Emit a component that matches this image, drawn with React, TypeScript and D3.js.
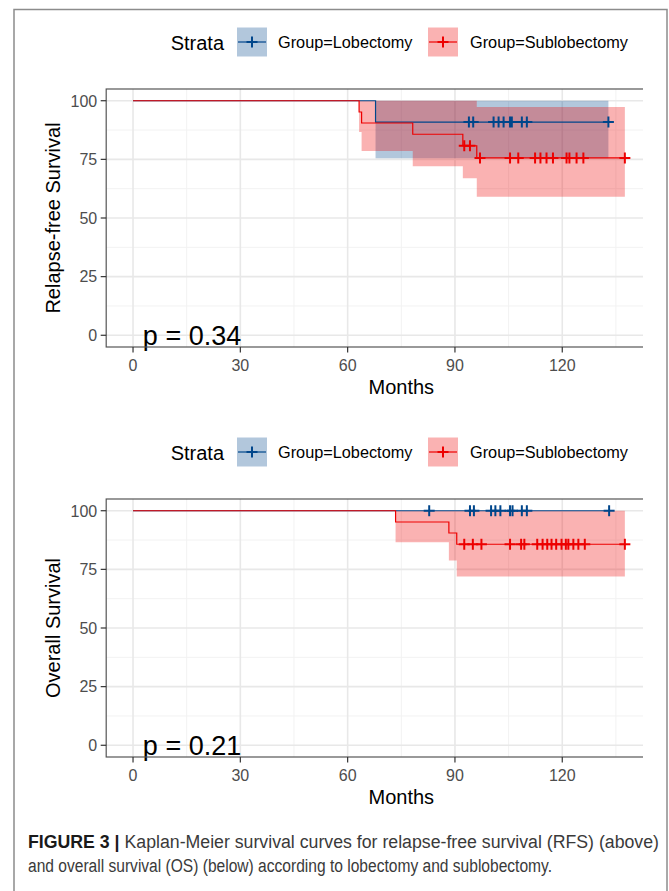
import React from "react";
import * as d3 from "d3";

// ---------- data ----------
const xTicks = [0, 30, 60, 90, 120];
const xMinor = [15, 45, 75, 105, 135];
const yTicks = [0, 25, 50, 75, 100];
const yMinor = [12.5, 37.5, 62.5, 87.5];

// RFS – Lobectomy
const rfsLobTimes = [0, 67.8];
const rfsLobSurv = [100, 90.9];
const rfsLobLower = [100, 75.5];
const rfsLobUpper = [100, 100];
const rfsLobEnd = 132.9;
const rfsLobCensor = [93.9, 95.1, 100.8, 102.2, 103.6, 105.4, 105.9, 108.7, 110.1, 132.9];

// RFS – Sublobectomy
const rfsSubTimes = [0, 63.2, 63.9, 78.2, 92.2, 96.1];
const rfsSubSurv = [100, 95.2, 90.5, 85.7, 80.8, 75.6];
const rfsSubLower = [100, 86.7, 78.6, 72.1, 66.9, 59.1];
const rfsSubUpper = [100, 100, 100, 100, 100, 97.3];
const rfsSubEnd = 137.5;
const rfsSubCensor = [92.6, 94.2, 97.0, 105.4, 107.7, 112.4, 113.9, 115.6, 117.4, 121.2, 122.0, 124.0, 125.9, 137.5];

// OS – Lobectomy
const osLobTimes = [0];
const osLobSurv = [100];
const osLobLower = [100];
const osLobUpper = [100];
const osLobEnd = 133.1;
const osLobCensor = [82.8, 94.2, 95.3, 100.1, 101.3, 102.7, 105.4, 106.1, 108.7, 110.1, 133.1];

// OS – Sublobectomy
const osSubTimes = [0, 73.4, 88.3, 90.5];
const osSubSurv = [100, 95.2, 90.5, 85.7];
const osSubLower = [100, 86.6, 78.8, 72.0];
const osSubUpper = [100, 100, 100, 100];
const osSubEnd = 137.5;
const osSubCensor = [92.6, 95.0, 97.4, 105.4, 108.5, 109.4, 113.0, 114.5, 115.8, 117.0, 118.3, 119.8, 121.0, 121.7, 123.1, 124.5, 126.3, 137.5];

const groupLabels = ["Group=Lobectomy", "Group=Sublobectomy"];
const groupColors = ["#00468B", "#ED0000"];

// ---------- layout ----------
const W = 669;
const H = 891;
const PANEL_L = 106.2;
const PANEL_R = 696.4;
const CLIP_R = 643;
const FONT = "'Liberation Sans', Arial, Helvetica, sans-serif";

type Curve = {
  times: number[];
  surv: number[];
  lower: number[];
  upper: number[];
  end: number;
  censor: number[];
};

const x = d3.scaleLinear().domain([-7.5, 157.5]).range([PANEL_L, PANEL_R]);

function Panel({
  top,
  curves,
  yTitle,
  pText,
  id,
}: {
  top: number;
  curves: Curve[];
  yTitle: string;
  pText: string;
  id: string;
}) {
  const panelTop = top + 47;
  const panelBottom = panelTop + 258;
  const y = d3.scaleLinear().domain([-5, 105]).range([panelBottom, panelTop]);
  const legendY = top;

  const areaGen = (c: Curve) => {
    const pts = c.times.map((t, i) => ({ t, lo: c.lower[i], hi: c.upper[i] }));
    pts.push({ t: c.end, lo: c.lower[c.lower.length - 1], hi: c.upper[c.upper.length - 1] });
    return d3
      .area<{ t: number; lo: number; hi: number }>()
      .x((d) => x(d.t))
      .y0((d) => y(d.lo))
      .y1((d) => y(d.hi))
      .curve(d3.curveStepAfter)(pts) as string;
  };
  const lineGen = (c: Curve) => {
    const pts = c.times.map((t, i) => ({ t, s: c.surv[i] }));
    pts.push({ t: c.end, s: c.surv[c.surv.length - 1] });
    return d3
      .line<{ t: number; s: number }>()
      .x((d) => x(d.t))
      .y((d) => y(d.s))
      .curve(d3.curveStepAfter)(pts) as string;
  };
  const survAt = (c: Curve, t: number) => {
    const i = d3.bisectRight(c.times, t) - 1;
    return c.surv[Math.max(0, i)];
  };

  const cross = (cx: number, cy: number, color: string, key: string, s = 5.5) => (
    <g key={key} stroke={color} strokeWidth={2}>
      <line x1={cx - s} x2={cx + s} y1={cy} y2={cy} />
      <line x1={cx} x2={cx} y1={cy - s} y2={cy + s} />
    </g>
  );

  const boxes = [237, 428];
  const labelsX = [278, 470];
  const boxY = legendY - 14.5;

  return (
    <g clipPath={`url(#${id})`}>
      <defs>
        <clipPath id={id}>
          <rect x={0} y={0} width={CLIP_R} height={H} />
        </clipPath>
        <clipPath id={id + "p"}>
          <rect x={PANEL_L} y={panelTop} width={PANEL_R - PANEL_L} height={panelBottom - panelTop} />
        </clipPath>
      </defs>

      {/* legend */}
      <text x={224} y={legendY + 7.5} fontSize={20} textAnchor="end" fill="#000" fontFamily={FONT}>
        Strata
      </text>
      {groupLabels.map((lab, i) => (
        <g key={lab}>
          <rect x={boxes[i]} y={boxY} width={30} height={29} fill={groupColors[i]} fillOpacity={0.3} />
          <line
            x1={boxes[i] + 1}
            x2={boxes[i] + 29}
            y1={legendY}
            y2={legendY}
            stroke={groupColors[i]}
            strokeWidth={1.2}
          />
          {cross(boxes[i] + 15, legendY, groupColors[i], "lc" + i)}
          <text x={labelsX[i]} y={legendY + 6} fontSize={16.3} fill="#000" fontFamily={FONT}>
            {lab}
          </text>
        </g>
      ))}

      {/* panel background + grid */}
      <rect x={PANEL_L} y={panelTop} width={PANEL_R - PANEL_L} height={panelBottom - panelTop} fill="#fff" />
      {xMinor.map((t) => (
        <line key={"xm" + t} x1={x(t)} x2={x(t)} y1={panelTop} y2={panelBottom} stroke="#f2f2f2" strokeWidth={1} />
      ))}
      {yMinor.map((t) => (
        <line key={"ym" + t} x1={PANEL_L} x2={PANEL_R} y1={y(t)} y2={y(t)} stroke="#f2f2f2" strokeWidth={1} />
      ))}
      {xTicks.map((t) => (
        <line key={"xg" + t} x1={x(t)} x2={x(t)} y1={panelTop} y2={panelBottom} stroke="#e8e8e8" strokeWidth={1.6} />
      ))}
      {yTicks.map((t) => (
        <line key={"yg" + t} x1={PANEL_L} x2={PANEL_R} y1={y(t)} y2={y(t)} stroke="#e8e8e8" strokeWidth={1.6} />
      ))}

      {/* curves */}
      <g clipPath={`url(#${id}p)`}>
        {curves.map((c, i) => (
          <path key={"a" + i} d={areaGen(c)} fill={groupColors[i]} fillOpacity={0.3} stroke="none" />
        ))}
        {curves.map((c, i) => (
          <path key={"l" + i} d={lineGen(c)} fill="none" stroke={groupColors[i]} strokeWidth={1.2} />
        ))}
        {curves.map((c, i) =>
          c.censor.map((t, j) => cross(x(t), y(survAt(c, t)), groupColors[i], `c${i}-${j}`))
        )}
      </g>

      {/* p value */}
      <text x={x(2.75)} y={y(0) + 10} fontSize={27} fill="#000" fontFamily={FONT}>
        {pText}
      </text>

      {/* panel border */}
      <rect
        x={PANEL_L}
        y={panelTop}
        width={PANEL_R - PANEL_L}
        height={panelBottom - panelTop}
        fill="none"
        stroke="#555"
        strokeWidth={1.2}
      />

      {/* axes */}
      {yTicks.map((t) => (
        <g key={"yt" + t}>
          <line x1={PANEL_L - 5.5} x2={PANEL_L} y1={y(t)} y2={y(t)} stroke="#333" strokeWidth={1.2} />
          <text x={PANEL_L - 9} y={y(t) + 5.8} fontSize={16} textAnchor="end" fill="#4d4d4d" fontFamily={FONT}>
            {t}
          </text>
        </g>
      ))}
      {xTicks.map((t) => (
        <g key={"xt" + t}>
          <line x1={x(t)} x2={x(t)} y1={panelBottom} y2={panelBottom + 5.5} stroke="#333" strokeWidth={1.2} />
          <text x={x(t)} y={panelBottom + 23.5} fontSize={16} textAnchor="middle" fill="#4d4d4d" fontFamily={FONT}>
            {t}
          </text>
        </g>
      ))}
      <text
        x={(PANEL_L + PANEL_R) / 2}
        y={panelBottom + 47}
        fontSize={20}
        textAnchor="middle"
        fill="#000"
        fontFamily={FONT}
      >
        Months
      </text>
      <text
        transform={`translate(60, ${(panelTop + panelBottom) / 2}) rotate(-90)`}
        fontSize={20}
        textAnchor="middle"
        fill="#000"
        fontFamily={FONT}
      >
        {yTitle}
      </text>
    </g>
  );
}

export default function App() {
  const rfsCurves: Curve[] = [
    { times: rfsLobTimes, surv: rfsLobSurv, lower: rfsLobLower, upper: rfsLobUpper, end: rfsLobEnd, censor: rfsLobCensor },
    { times: rfsSubTimes, surv: rfsSubSurv, lower: rfsSubLower, upper: rfsSubUpper, end: rfsSubEnd, censor: rfsSubCensor },
  ];
  const osCurves: Curve[] = [
    { times: osLobTimes, surv: osLobSurv, lower: osLobLower, upper: osLobUpper, end: osLobEnd, censor: osLobCensor },
    { times: osSubTimes, surv: osSubSurv, lower: osSubLower, upper: osSubUpper, end: osSubEnd, censor: osSubCensor },
  ];
  return (
    <svg
      width={W}
      height={H}
      viewBox={`0 0 ${W} ${H}`}
      style={{ position: "absolute", left: 0, top: 0, background: "#fff" }}
    >
      <rect x={0} y={0} width={W} height={H} fill="#fff" />
      <Panel top={42} curves={rfsCurves} yTitle="Relapse-free Survival" pText="p = 0.34" id="clipA" />
      <Panel top={452} curves={osCurves} yTitle="Overall Survival" pText="p = 0.21" id="clipB" />

      {/* caption */}
      <text x={28} y={848} fontSize={18} fill="#3a3a3a" fontFamily={FONT} textLength={631} lengthAdjust="spacingAndGlyphs">
        <tspan fontWeight="bold" fill="#1a1a1a">FIGURE 3 |</tspan>
        <tspan> Kaplan-Meier survival curves for relapse-free survival (RFS) (above)</tspan>
      </text>
      <text x={28} y={872} fontSize={18} fill="#3a3a3a" fontFamily={FONT} textLength={524} lengthAdjust="spacingAndGlyphs">
        and overall survival (OS) (below) according to lobectomy and sublobectomy.
      </text>

      {/* frame */}
      <rect x={14} y={9.5} width={653} height={H + 20} fill="none" stroke="#8c8c8c" strokeWidth={1.5} />
    </svg>
  );
}
